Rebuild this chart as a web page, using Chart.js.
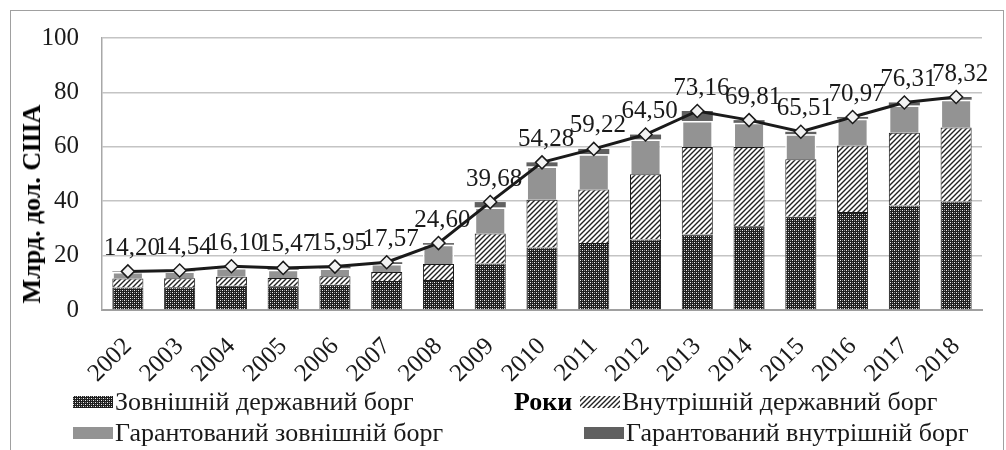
<!DOCTYPE html>
<html>
<head>
<meta charset="utf-8">
<script src="https://cdn.jsdelivr.net/npm/chart.js@4"></script>
<style>
  body { margin: 0; background: #fff; font-family: "Liberation Serif", serif; }
  #wrap { position: relative; width: 1006px; height: 450px; overflow: hidden; }
  #frame { position: absolute; left: 10px; top: 10px; width: 994px; height: 460px; border: 1px solid #a0a0a0; box-sizing: border-box; }
  canvas { position: absolute; left: 0; top: 0; }
  .ytitle { position: absolute; left: 32px; top: 204px; transform: translate(-50%, -50%) rotate(-90deg); font-weight: bold; font-size: 26px; white-space: nowrap; color: #000; }
  .xtitle { position: absolute; left: 514px; top: 387px; font-weight: bold; font-size: 26px; color: #000; }
  .leg { position: absolute; font-size: 26px; color: #1a1a1a; white-space: nowrap; line-height: 30px; }
  .sw { display: inline-block; width: 40px; height: 12px; vertical-align: middle; margin-right: 2px; margin-top: -4px; }
</style>
</head>
<body>
<div id="wrap">
  <div id="frame"></div>
  <canvas id="c" width="1006" height="450"></canvas>
  <div class="ytitle">Млрд. дол. США</div>
  <div class="xtitle">Роки</div>
  <div class="leg" style="left:73px; top:387px;"><span class="sw" id="sw0"></span>Зовнішній державний борг</div>
  <div class="leg" style="left:580px; top:387px;"><span class="sw" id="sw1"></span>Внутрішній державний борг</div>
  <div class="leg" style="left:73px; top:418px;"><span class="sw" id="sw2"></span>Гарантований зовнішній борг</div>
  <div class="leg" style="left:584px; top:418px;"><span class="sw" id="sw3"></span>Гарантований внутрішній борг</div>
</div>
<script>
const years = ['2002','2003','2004','2005','2006','2007','2008','2009','2010','2011','2012','2013','2014','2015','2016','2017','2018'];
const externalDebt = [8.3, 8.4, 8.9, 8.7, 9.3, 10.7, 11.0, 17.1, 23.0, 24.6, 25.9, 27.8, 30.8, 34.3, 36.0, 38.4, 39.9];
const internalDebt = [3.3, 3.3, 3.3, 3.1, 3.1, 3.3, 5.9, 11.0, 17.5, 19.7, 24.0, 32.1, 29.1, 21.1, 24.5, 26.8, 27.2];
const guaranteedExternal = [2.4, 2.5, 3.2, 3.0, 2.9, 2.9, 7.1, 9.6, 12.3, 13.0, 12.8, 9.6, 8.9, 9.2, 9.8, 10.0, 10.2];
const guaranteedInternal = [0.2, 0.34, 0.7, 0.67, 0.65, 0.67, 0.6, 1.98, 1.48, 1.92, 1.8, 3.66, 1.01, 0.91, 0.67, 1.11, 1.02];
const totalDebt = [14.20, 14.54, 16.10, 15.47, 15.95, 17.57, 24.60, 39.68, 54.28, 59.22, 64.50, 73.16, 69.81, 65.51, 70.97, 76.31, 78.32];
const yTicks = [0, 20, 40, 60, 80, 100];

const FONT = '"Liberation Serif", "Times New Roman", serif';
const canvas = document.getElementById('c');
const ctx = canvas.getContext('2d');

// плитки для штриховки стовпців
function makeDotTile() {
    const t = document.createElement('canvas');
    t.width = 4; t.height = 4;
    const g = t.getContext('2d');
    g.fillStyle = '#1e1e1e';
    g.fillRect(0, 0, 4, 4);
    g.fillStyle = '#f0f0f0';
    g.fillRect(0, 0, 1, 1);
    g.fillRect(2, 2, 1, 1);
    g.fillStyle = '#8a8a8a';
    g.fillRect(2, 0, 1, 1);
    g.fillRect(0, 2, 1, 1);
    return t;
}

function makeHatchTile() {
    const t = document.createElement('canvas');
    t.width = 5; t.height = 5;
    const g = t.getContext('2d');
    g.fillStyle = '#fff';
    g.fillRect(0, 0, 5, 5);
    g.strokeStyle = '#222';
    g.lineWidth = 1.4;
    g.beginPath();
    g.moveTo(-1, 6); g.lineTo(6, -1);
    g.moveTo(-1, 1); g.lineTo(1, -1);
    g.moveTo(4, 6); g.lineTo(6, 4);
    g.stroke();
    return t;
}

const dotTile = makeDotTile();
const hatchTile = makeHatchTile();
const dotPattern = ctx.createPattern(dotTile, 'repeat');
const hatchPattern = ctx.createPattern(hatchTile, 'repeat');
const gray = '#939393';
const darkGray = '#606060';

document.getElementById('sw0').style.background = 'url(' + dotTile.toDataURL() + ')';
document.getElementById('sw1').style.background = 'url(' + hatchTile.toDataURL() + ')';
document.getElementById('sw2').style.background = gray;
document.getElementById('sw3').style.background = darkGray;

function formatValue(v) {
    return v.toFixed(2).replace('.', ',');
}

const totalLabels = {
    id: 'totalLabels',
    afterDatasetsDraw(chart) {
        const meta = chart.getDatasetMeta(4);
        const c = chart.ctx;
        c.save();
        c.font = '25px ' + FONT;
        c.fillStyle = '#1a1a1a';
        c.textAlign = 'center';
        c.textBaseline = 'middle';
        meta.data.forEach((pt, i) => {
            c.fillText(formatValue(totalDebt[i]), pt.x + 4, pt.y - 23);
        });
        c.restore();
    }
};

const barCommon = { type: 'bar', stack: 'debt', order: 1, barPercentage: 0.6, categoryPercentage: 1 };

new Chart(ctx, {
    data: {
        labels: years,
        datasets: [
            { ...barCommon, label: 'Зовнішній державний борг', data: externalDebt, backgroundColor: dotPattern, borderColor: '#1a1a1a', borderWidth: 1 },
            { ...barCommon, label: 'Внутрішній державний борг', data: internalDebt, backgroundColor: hatchPattern, borderColor: '#1a1a1a', borderWidth: 1 },
            { ...barCommon, label: 'Гарантований зовнішній борг', data: guaranteedExternal, backgroundColor: gray, borderColor: '#ffffff', borderWidth: 1.5 },
            { ...barCommon, label: 'Гарантований внутрішній борг', data: guaranteedInternal, backgroundColor: darkGray, borderColor: '#ffffff', borderWidth: 0 },
            {
                type: 'line', label: 'Разом', data: totalDebt, stack: 'total', order: 0,
                borderColor: '#1a1a1a', borderWidth: 3, tension: 0,
                pointStyle: 'rectRot', pointRadius: 6.5, pointBackgroundColor: '#f2f2f2',
                pointBorderColor: '#1a1a1a', pointBorderWidth: 1.5
            }
        ]
    },
    options: {
        responsive: false,
        animation: false,
        devicePixelRatio: 1,
        layout: { padding: { top: 27, right: 24, left: 0, bottom: 0 } },
        plugins: { legend: { display: false }, tooltip: { enabled: false } },
        scales: {
            x: {
                stacked: true,
                grid: { display: false },
                border: { color: '#a0a0a0', width: 2 },
                ticks: { font: { family: FONT, size: 25 }, color: '#1a1a1a', minRotation: 45, maxRotation: 45, padding: 14 },
                afterFit: axis => { axis.height = 140; }
            },
            y: {
                stacked: true,
                min: 0, max: 100,
                afterBuildTicks: axis => { axis.ticks = yTicks.map(v => ({ value: v })); },
                grid: { color: '#c4c4c4', lineWidth: 1.5, drawTicks: false },
                border: { color: '#a8a8a8', width: 1.5 },
                ticks: { font: { family: FONT, size: 25 }, color: '#1a1a1a', padding: 23 },
                afterFit: axis => { axis.width = 102; }
            }
        }
    },
    plugins: [totalLabels]
});
</script>
</body>
</html>
